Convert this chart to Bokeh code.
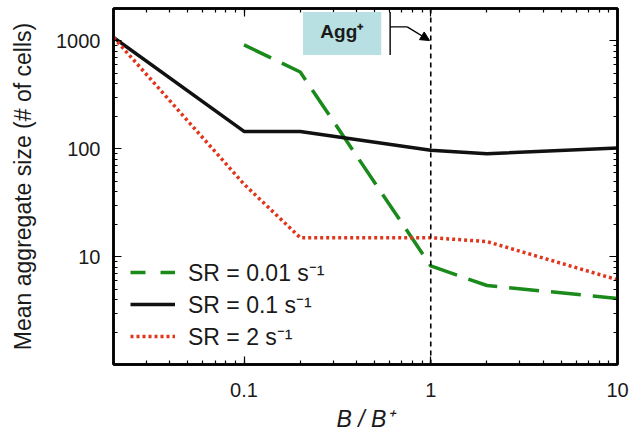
from bokeh.plotting import figure
from bokeh.models import (FixedTicker, LogAxis, Span, BoxAnnotation, Label, Arrow,
                          NormalHead, Legend, LegendItem, Range1d, CustomJSTickFormatter)
from bokeh.embed import file_html
from bokeh.resources import INLINE

# ---- data ----
x_all = [0.02, 0.1, 0.2, 1, 2, 10]
sr001_x = [0.1, 0.2, 1, 2, 10]
sr001_y = [920, 515, 8.2, 5.4, 4.1]
sr01_y = [1080, 145, 145, 97, 90, 102]
sr2_y = [1080, 47, 15, 15, 13.8, 6.1]

x_ticks = [0.1, 1, 10]
y_ticks = [10, 100, 1000]
x_minor = [m * 10.0 ** e for e in (-2, -1, 0) for m in range(1, 10)]
y_minor = [m * 10.0 ** e for e in (0, 1, 2, 3) for m in range(1, 10)]

series_labels = ["SR = 0.01 s\u207b\u00b9", "SR = 0.1 s\u207b\u00b9", "SR = 2 s\u207b\u00b9"]

FONT = "Liberation Sans"
TXT = "#1a1a1a"

p = figure(width=640, height=436, x_axis_type="log", y_axis_type="log",
           x_range=Range1d(0.02, 10), y_range=Range1d(1, 2000),
           output_backend="svg", toolbar_location=None,
           min_border_left=113, min_border_right=23, min_border_top=8,
           min_border_bottom=72)
p.grid.visible = False
p.outline_line_color = "black"
p.outline_line_width = 2.5
p.background_fill_color = "white"
p.border_fill_color = "white"

num_fmt = CustomJSTickFormatter(code="return String(tick);")

for ax, ticks, minor in ((p.xaxis[0], x_ticks, x_minor), (p.yaxis[0], y_ticks, y_minor)):
    ax.ticker = FixedTicker(ticks=ticks, minor_ticks=minor)
    ax.formatter = num_fmt
    ax.major_tick_in = 8
    ax.major_tick_out = 0
    ax.minor_tick_in = 4
    ax.minor_tick_out = 0
    ax.axis_line_width = 2.5
    ax.major_tick_line_width = 1.2
    ax.minor_tick_line_width = 1.2
    ax.major_label_text_font = FONT
    ax.major_label_text_font_size = "20px"
    ax.major_label_text_color = TXT
    ax.axis_label_text_font = FONT
    ax.axis_label_text_font_size = "23px"
    ax.axis_label_text_color = TXT

p.xaxis[0].axis_label = "B / B\u207a"
p.xaxis[0].axis_label_text_font_style = "italic"
p.xaxis[0].major_label_standoff = 18
p.xaxis[0].axis_label_standoff = 6
p.yaxis[0].axis_label = "Mean aggregate size (# of cells)"
p.yaxis[0].axis_label_text_font_style = "normal"
p.yaxis[0].major_label_standoff = 13
p.yaxis[0].axis_label_standoff = 17

blank_fmt = CustomJSTickFormatter(code="return '';")
top = LogAxis(ticker=FixedTicker(ticks=x_ticks, minor_ticks=x_minor),
              formatter=blank_fmt, major_tick_in=8, major_tick_out=0,
              minor_tick_in=4, minor_tick_out=0, axis_line_width=2.5,
              major_tick_line_width=1.2, minor_tick_line_width=1.2,
              major_label_standoff=0)
right = LogAxis(ticker=FixedTicker(ticks=y_ticks, minor_ticks=y_minor),
                formatter=blank_fmt, major_tick_in=8, major_tick_out=0,
                minor_tick_in=4, minor_tick_out=0, axis_line_width=2.5,
                major_tick_line_width=1.2, minor_tick_line_width=1.2,
                major_label_standoff=0)
p.add_layout(top, "above")
p.add_layout(right, "right")

GREEN = "#1a8a1a"
RED = "#e0361c"
BLACK = "#111111"

p.line(sr001_x, sr001_y, line_color=GREEN, line_width=3.5, line_dash="30 12")
r_black = p.line(x_all, sr01_y, line_color=BLACK, line_width=3.5)
r_red = p.line(x_all, sr2_y, line_color=RED, line_width=3.5, line_dash="3 3")
# legend sample for the green series (shorter dashes, as in the original legend);
# it draws nothing in the plot area
r_green_leg = p.line(sr001_x, [float("nan")] * len(sr001_x), line_color=GREEN,
                     line_width=3.5, line_dash="15 15")

p.add_layout(Span(location=1, dimension="height", line_color="black",
                  line_width=1.6, line_dash="5 4"))

# annotation Agg+
p.add_layout(BoxAnnotation(left=0.207, right=0.543, bottom=741, top=1860,
                           fill_color="#b8e0e3", fill_alpha=1, line_alpha=0))
p.add_layout(Label(x=0.334, y=1221, text="Agg\u207a", text_font=FONT,
                   text_font_style="bold", text_font_size="19px",
                   text_color=TXT, text_align="center",
                   text_baseline="middle"))
p.segment(x0=[0.606, 0.606], y0=[741, 1350], x1=[0.606, 0.748], y1=[1860, 1350],
          line_color="black", line_width=1.4)
p.add_layout(Arrow(x_start=0.748, y_start=1350, x_end=0.985, y_end=1010,
                   line_width=1.4, line_color="black",
                   end=NormalHead(size=9, fill_color="black", line_color="black")))

legend = Legend(items=[
    LegendItem(label=series_labels[0], renderers=[r_green_leg]),
    LegendItem(label=series_labels[1], renderers=[r_black]),
    LegendItem(label=series_labels[2], renderers=[r_red]),
], location=(9, 4), glyph_width=45, glyph_height=26, label_height=26, spacing=0,
    padding=8, label_text_font=FONT, label_text_font_size="23px",
    label_text_color=TXT, border_line_alpha=0, background_fill_alpha=0,
    label_standoff=13)
p.add_layout(legend, "center")

open("out.html", "w").write(file_html(p, INLINE))
